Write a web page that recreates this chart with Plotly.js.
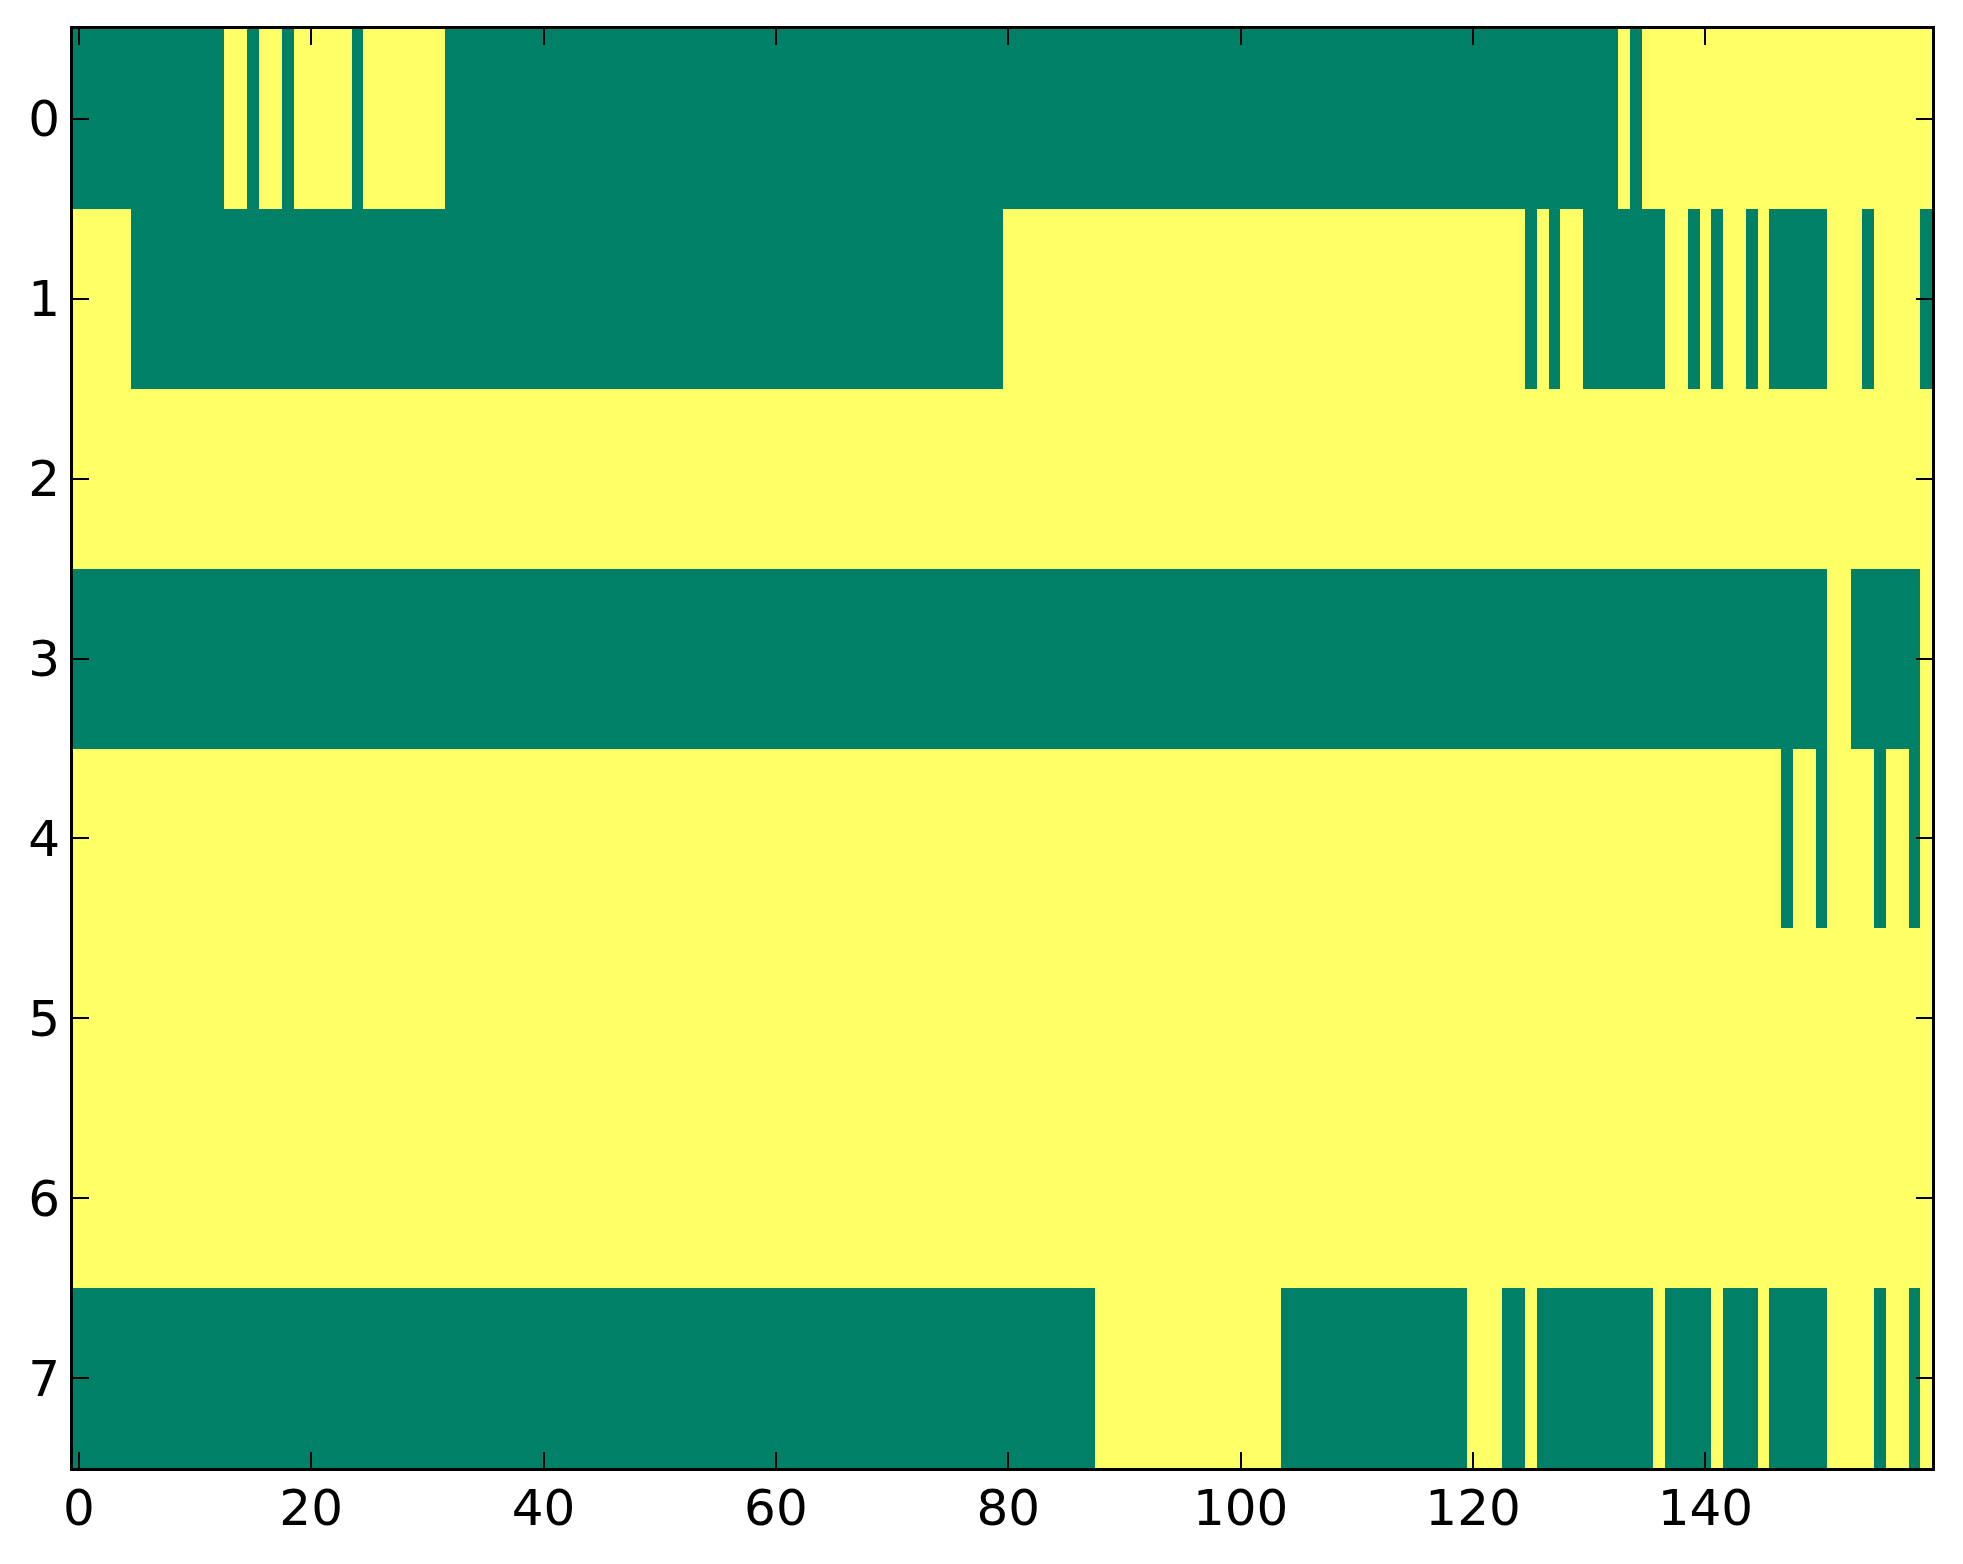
<!DOCTYPE html>
<html>
<head>
<meta charset="utf-8">
<script src="https://cdn.plot.ly/plotly-3.0.1.min.js"></script>
<style>
html, body { margin: 0; padding: 0; background: #ffffff; }
#chart { width: 1963px; height: 1564px; }
</style>
</head>
<body>
<div id="chart"></div>
<script>
// Each row: alternating [value, runLength] pairs (0 = green, 1 = yellow)
const row0Runs = [0,13, 1,2, 0,1, 1,2, 0,1, 1,5, 0,1, 1,7, 0,101, 1,1, 0,1, 1,25];
const row1Runs = [1,5, 0,75, 1,45, 0,1, 1,1, 0,1, 1,2, 0,7, 1,2, 0,1, 1,1, 0,1, 1,2, 0,1, 1,1, 0,5, 1,3, 0,1, 1,4, 0,1];
const row2Runs = [1,160];
const row3Runs = [0,151, 1,2, 0,6, 1,1];
const row4Runs = [1,147, 0,1, 1,2, 0,1, 1,4, 0,1, 1,2, 0,1, 1,1];
const row5Runs = [1,160];
const row6Runs = [1,160];
const row7Runs = [0,88, 1,16, 0,16, 1,3, 0,2, 1,1, 0,10, 1,1, 0,4, 1,1, 0,3, 1,1, 0,5, 1,4, 0,1, 1,2, 0,1, 1,1];

const rowRuns = [row0Runs, row1Runs, row2Runs, row3Runs, row4Runs, row5Runs, row6Runs, row7Runs];
const xTicks = [0, 20, 40, 60, 80, 100, 120, 140];
const yTicks = [0, 1, 2, 3, 4, 5, 6, 7];

function expandRuns(runs) {
  const out = [];
  for (let i = 0; i < runs.length; i += 2) {
    for (let k = 0; k < runs[i + 1]; k++) out.push(runs[i]);
  }
  return out;
}
const z = rowRuns.map(expandRuns);
const nCols = z[0].length;

const trace = {
  type: 'heatmap',
  z: z,
  x: Array.from({length: nCols}, (_, i) => i),
  y: yTicks,
  colorscale: [[0, '#008066'], [1, '#ffff66']],
  zmin: 0, zmax: 1,
  showscale: false,
  zsmooth: false,
  hoverinfo: 'skip'
};

const axisCommon = {
  showgrid: false,
  zeroline: false,
  showline: true,
  linecolor: '#000000',
  linewidth: 3,
  mirror: 'ticks',
  ticks: 'inside',
  ticklen: 16,
  tickwidth: 2,
  tickcolor: '#000000',
  tickfont: {family: 'DejaVu Sans', size: 50, color: '#000000'}
};

const layout = {
  width: 1963,
  height: 1564,
  margin: {l: 73, r: 31, t: 29, b: 96, pad: 0},
  paper_bgcolor: '#ffffff',
  plot_bgcolor: '#ffffff',
  showlegend: false,
  xaxis: Object.assign({}, axisCommon, {
    range: [-0.5, nCols - 0.5],
    tickvals: xTicks,
    ticktext: xTicks.map(String),
    ticklabelstandoff: -6
  }),
  yaxis: Object.assign({}, axisCommon, {
    range: [7.5, -0.5],
    tickvals: yTicks,
    ticktext: yTicks.map(String),
    ticklabelstandoff: 0
  })
};

Plotly.newPlot('chart', [trace], layout, {displayModeBar: false, staticPlot: true});
</script>
</body>
</html>
